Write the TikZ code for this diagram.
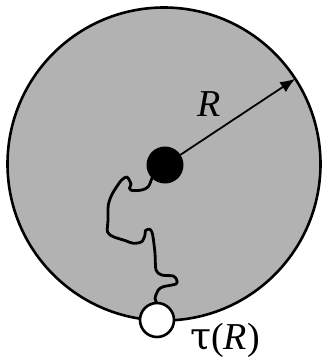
\documentclass[tikz,border=0pt]{standalone}
\usepackage{fontspec}
\setmainfont{Liberation Serif}
\newfontfamily\greekfont{DejaVu Serif}
\usepackage{tikz}
\usetikzlibrary{arrows.meta, positioning}

\begin{document}
\begin{tikzpicture}[x=1pt, y=-1pt,
        disk/.style={circle, draw, line width=2.6pt, fill=black!30, inner sep=0pt, outer sep=0pt, minimum size=313pt},
        source/.style={circle, fill=black, inner sep=0pt, outer sep=0pt, minimum size=37pt},
        hit/.style={circle, draw, line width=2.6pt, fill=white, inner sep=0pt, outer sep=0pt, minimum size=34pt},
        lbl/.style={inner sep=0pt, font=\fontsize{38}{42}\selectfont},
        radius/.style={-{Latex[length=15pt, width=12pt]}, line width=1.8pt},
        walk/.style={line width=2.8pt, line join=round, line cap=round}
    ]
    \useasboundingbox (0,0) rectangle (323,362);

    % --- 1. DISK AND START POINT ---
    \node [disk] (disk) at (164,164) {};
    \node [source] (origin) at (165,165) {};

    % radius
    \draw [radius] (origin) -- (disk.33);
    \node [lbl] (rlabel) at (209,104) {\textit{R}};

    % --- 2. RANDOM WALK TO THE BOUNDARY ---
    \draw [walk] plot [smooth, tension=0.5] coordinates {
        (origin.225) (148.3,186.7) (141.7,190) (132,190.5) (129.5,188) (131,184)
        (127,177) (121.7,180) (116.7,186.7) (111.7,195) (108.3,205) (108,220)
        (107.5,232) (113.3,236.7) (125,240.5) (133.3,243.3) (141.7,241.7) (145,235)
        (145.5,230.5) (150,229.3) (152.7,235) (155,253.3) (156,270) (161.7,275)
        (173.3,276) (176.7,280) (176,284) (163.3,286.7) (158.3,290) (155,298.3)
        (157,303)};

    % --- 3. EXIT POINT ---
    \node [hit] (exit) at (157,320) {};
    \node [lbl, anchor=base west] (taulabel) at (190,349) {{\greekfont τ}(\textit{R})};

\end{tikzpicture}
\end{document}
